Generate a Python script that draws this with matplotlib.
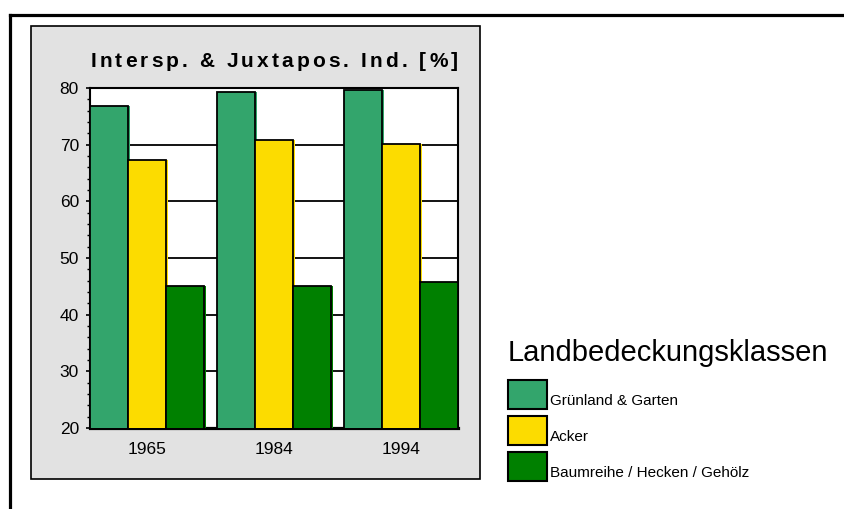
import numpy as np
import matplotlib.pyplot as plt
from matplotlib.patches import Rectangle
from matplotlib.lines import Line2D
from matplotlib.font_manager import FontProperties, findfont
from matplotlib.ft2font import FT2Font
import matplotlib.patheffects as pe

plt.rcParams['font.family'] = ['Liberation Sans', 'DejaVu Sans']

# datos
jahre = ['1965', '1984', '1994']
klassen = ['Grünland & Garten', 'Acker', 'Baumreihe / Hecken / Gehölz']
gruenland = [76.8, 79.3, 79.6]
acker = [67.3, 70.8, 70.1]
gehoelz = [45.1, 45.1, 45.8]
farben = ['#33a56c', '#fcdc00', '#008000']
titel = 'Intersp. & Juxtapos. Ind. [%]'

W, H = 844, 509
fig = plt.figure(figsize=(W / 100, H / 100), dpi=100)

def fx(px):
    return px / W

def fy(py):
    return 1 - py / H

def gesperrt(cx, baseline, s, size, weight, spacing):
    # texto con espaciado entre letras, centrado en cx (pixeles)
    prop = FontProperties(family='Liberation Sans', weight=weight, size=size)
    font = FT2Font(findfont(prop))
    font.set_size(size, 100)
    adv = [font.load_char(ord(c)).linearHoriAdvance / 65536 for c in s]
    total = sum(adv) + spacing * (len(s) - 1)
    xpos = cx - total / 2
    for c, a in zip(s, adv):
        fig.text(fx(xpos), fy(baseline), c, fontproperties=prop, ha='left', va='baseline')
        xpos += a + spacing

# marco exterior
fig.add_artist(Line2D([fx(10), 1], [fy(15), fy(15)], color='black', lw=2.3))
fig.add_artist(Line2D([fx(10), fx(10)], [0, fy(15)], color='black', lw=2.3))

# panel gris
fig.add_artist(Rectangle((fx(31), fy(479)), fx(480) - fx(31), fy(26) - fy(479),
                         facecolor='#e2e2e2', edgecolor='black', lw=1.2, zorder=0))

ax = fig.add_axes([fx(90), fy(428), fx(458) - fx(90), fy(88) - fy(428)])
ax.set_facecolor('white')

x = np.arange(len(jahre))
ancho = 0.3
for i, (serie, color) in enumerate(zip([gruenland, acker, gehoelz], farben)):
    barras = ax.bar(x + (i - 1) * ancho, serie, ancho, color=color,
                    edgecolor='black', linewidth=1.3, zorder=3)
    for b in barras:
        b.set_path_effects([pe.SimplePatchShadow(offset=(1.6, 0), shadow_rgbFace=color, alpha=1),
                            pe.Normal()])

ax.set_ylim(20, 80)
ax.set_xlim(-0.45, 2.45)
ax.set_yticks(np.arange(20, 81, 10))
ax.set_yticks(np.arange(20, 81, 2), minor=True)
ax.set_xticks(x)
ax.set_xticklabels(jahre)
ax.yaxis.grid(True, color='black', lw=1.3, zorder=0)
ax.set_axisbelow(True)

ax.tick_params(axis='y', which='major', length=3, width=1.2, pad=5, labelsize=12.5, colors='black')
ax.tick_params(axis='y', which='minor', length=2.5, width=1)
ax.tick_params(axis='x', length=0, pad=10, labelsize=12.5)
for s in ['top', 'right', 'left']:
    ax.spines[s].set_linewidth(1.5)
ax.spines['bottom'].set_linewidth(2.3)

gesperrt((90 + 458) / 2, 67, titel, 15, 'bold', 3.1)

# leyenda
fig.text(fx(508), fy(361), 'Landbedeckungsklassen', ha='left', va='baseline', fontsize=21)
for i, (etiqueta, color) in enumerate(zip(klassen, farben)):
    top = 380 + i * 36
    fig.add_artist(Rectangle((fx(508), fy(top + 29)), fx(39), 29 / H,
                             facecolor=color, edgecolor='black', lw=1.5))
    fig.text(fx(550), fy(top + 25), etiqueta, ha='left', va='baseline', fontsize=11)

fig.savefig('out.png', dpi=100)
